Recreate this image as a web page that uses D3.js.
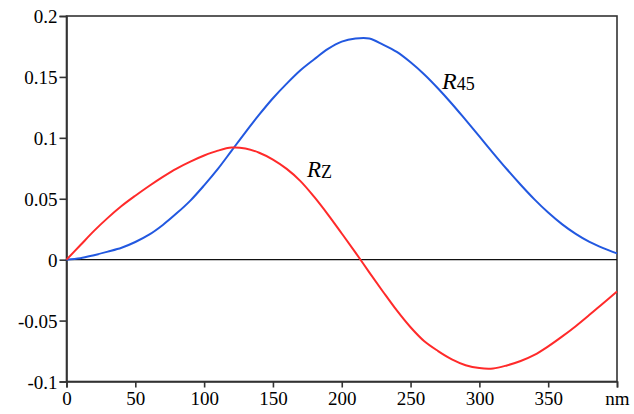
<!DOCTYPE html>
<html><head><meta charset="utf-8">
<script src="https://cdn.jsdelivr.net/npm/d3@7"></script>
<style>body{margin:0;background:#fff;}svg{display:block;}</style>
</head><body>
<script>
const wavelengths = d3.range(0, 401, 10);
const r45 = [0,0.0012,0.0037,0.0066,0.0098,0.0145,0.0205,0.0285,0.038,0.0485,0.061,0.0745,0.0895,0.1045,0.119,0.1325,0.1445,0.1555,0.1645,0.173,0.179,0.1815,0.1815,0.1765,0.1705,0.162,0.152,0.1405,0.128,0.1147,0.1012,0.0875,0.0742,0.0615,0.0495,0.0387,0.0292,0.0212,0.0146,0.0095,0.0052];
const rz = [0,0.0118,0.0236,0.0343,0.044,0.0525,0.0605,0.068,0.0748,0.0805,0.0855,0.0895,0.092,0.0912,0.0878,0.0822,0.0745,0.0645,0.0515,0.037,0.0215,0.0058,-0.0104,-0.0263,-0.0417,-0.0555,-0.067,-0.075,-0.0818,-0.0866,-0.089,-0.0893,-0.0868,-0.0832,-0.0782,-0.0712,-0.0632,-0.0546,-0.0453,-0.0357,-0.0262];
const xTicks = [0,50,100,150,200,250,300,350,400];
const xTickLabels = ["0","50","100","150","200","250","300","350","nm"];
const yTicks = [-0.1,-0.05,0,0.05,0.1,0.15,0.2];
const yTickLabels = ["-0.1","-0.05","0","0.05","0.1","0.15","0.2"];

const FONT = "'Liberation Serif', 'Times New Roman', 'DejaVu Serif', serif";
const W=634,H=414;
const L=66.5,R=617,T=16,B=381.5;
const svg=d3.select("body").append("svg").attr("width",W).attr("height",H);
const x=d3.scaleLinear().domain([0,400]).range([L,R]);
const y=d3.scaleLinear().domain([-0.1,0.2]).range([B,T]);

svg.append("rect").attr("x",L).attr("y",T).attr("width",R-L).attr("height",B-T)
  .attr("fill","none").attr("stroke","#333").attr("stroke-width",1.6);
svg.append("line").attr("x1",L).attr("x2",R).attr("y1",y(0)).attr("y2",y(0))
  .attr("stroke","#111").attr("stroke-width",1.2);

const xAxis=svg.append("g").attr("transform",`translate(0,${B})`)
  .call(d3.axisBottom(x).tickValues(xTicks).tickFormat((d,i)=>xTickLabels[i]).tickSize(6).tickPadding(4));
const yAxis=svg.append("g").attr("transform",`translate(${L},0)`)
  .call(d3.axisLeft(y).tickValues(yTicks).tickFormat((d,i)=>yTickLabels[i]).tickSize(7).tickPadding(2));
[xAxis,yAxis].forEach(g=>{
  g.attr("font-family",FONT).style("font-family",FONT);
  g.select(".domain").attr("stroke","#333").attr("stroke-width",1.6);
  g.selectAll(".tick line").attr("stroke","#333").attr("stroke-width",1.6);
  g.selectAll("text").style("font-family",FONT).attr("font-size",19).attr("fill","#000");
});
yAxis.selectAll("text").attr("dy","0.36em");

const line=d3.line().x((d,i)=>x(wavelengths[i])).y(d=>y(d)).curve(d3.curveCatmullRom.alpha(0.5));
svg.append("path").datum(r45).attr("d",line).attr("fill","none").attr("stroke","#2258e0").attr("stroke-width",2);
svg.append("path").datum(rz).attr("d",line).attr("fill","none").attr("stroke","#ff2a2a").attr("stroke-width",2);

const t1=svg.append("text").attr("x",442).attr("y",89).attr("font-size",24).style("font-family",FONT);
t1.append("tspan").attr("font-style","italic").text("R");
t1.append("tspan").attr("font-size",18).attr("dy",1).text("45");
const t2=svg.append("text").attr("x",307).attr("y",177).attr("font-size",23).style("font-family",FONT);
t2.append("tspan").attr("font-style","italic").text("R");
t2.append("tspan").attr("font-size",18).attr("dy",1).text("Z");
</script>
</body></html>
